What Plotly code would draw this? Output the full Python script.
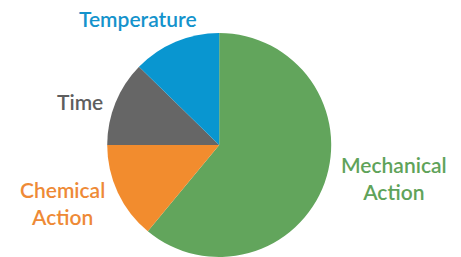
import plotly.graph_objects as go

labels = ["Mechanical Action", "Chemical Action", "Time", "Temperature"]
label_text = ["Mechanical<br>Action", "Chemical<br>Action", "Time", "Temperature"]
values = [61, 14, 12.3, 12.7]
colors = ["#62a55c", "#f28c2e", "#666666", "#0996d0"]
label_colors = ["#5fa35a", "#ee8a36", "#5e5e5e", "#1493cc"]
label_x = [394, 62, 80, 138]
label_y = [178, 203, 102, 19]

W, H = 461, 257

fig = go.Figure(go.Pie(
    labels=labels,
    values=values,
    marker=dict(colors=colors, line=dict(width=0)),
    sort=False,
    direction="clockwise",
    rotation=0,
    textinfo="none",
    hoverinfo="label+percent",
    domain=dict(x=[0.2304, 0.7206], y=[0, 224 / 257]),
    showlegend=False,
))

for t, c, x, y in zip(label_text, label_colors, label_x, label_y):
    fig.add_annotation(
        text=t, x=x / W, y=1 - y / H, xref="paper", yref="paper",
        xanchor="center", yanchor="middle", showarrow=False,
        font=dict(family="Lato", size=21, color=c, weight=600),
        align="center",
    )

fig.update_layout(
    width=W, height=H,
    margin=dict(l=0, r=0, t=0, b=0),
    paper_bgcolor="white", plot_bgcolor="white",
)

fig.write_html(
    "out.html",
    config={"displayModeBar": False},
    post_script="document.body.style.margin='0';document.body.style.overflow='hidden';",
)
